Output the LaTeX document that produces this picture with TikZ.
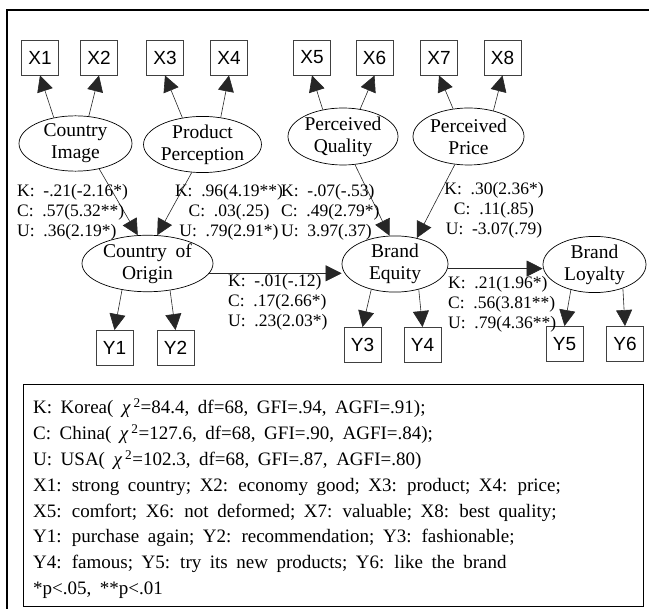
\documentclass[tikz,border=0pt]{standalone}
\usepackage{fontspec}
\setmainfont{Liberation Serif}
\setsansfont{Liberation Sans}
\usetikzlibrary{shapes.geometric,arrows.meta}
\newcommand\latfont{\fontsize{19.5}{22}\selectfont\spaceskip=0.45em\relax}
\newcommand\coeffont{\fontsize{17.5}{20}\selectfont\spaceskip=0.5em\relax}
\newcommand\legfont{\fontsize{19}{22}\selectfont\spaceskip=0.45em\relax}
\tikzset{
  latent/.style={draw, ellipse, inner sep=0pt, align=center, line width=0.7pt, font=\latfont},
  obs/.style={draw=black!75, minimum width=37pt, minimum height=35pt, inner sep=0pt,
    line width=0.9pt, font=\sffamily\fontsize{19}{20}\selectfont},
  coef/.style={inner sep=0pt, font=\coeffont},
  arr/.style={-{Triangle[length=16pt,width=16pt]}, draw=black!85, line width=0.6pt},
  legline/.style={anchor=base west, inner sep=0pt, font=\legfont},
}
\begin{document}
\begin{tikzpicture}[x=1pt, y=-1pt]
  \useasboundingbox (0,0) rectangle (649,609);
  \draw[line width=1.4pt] (649,10) -- (7,10) -- (7,609);

  % latent variables
  \node[latent, minimum width=113pt, minimum height=53pt] (ci) at (75.5,143.5) {Country\\Image};
  \node[latent, minimum width=111pt, minimum height=55pt] (pp) at (202.5,144.5) {Product\\Perception};
  \node[latent, minimum width=110pt, minimum height=57pt] (pq) at (343,136.5) {Perceived\\Quality};
  \node[latent, minimum width=111pt, minimum height=57pt] (pr) at (468.5,136.5) {Perceived\\Price};
  \node[latent, minimum width=131pt, minimum height=49pt] (coo) at (147.5,263.5) {Country of\\Origin};
  \node[latent, minimum width=106pt, minimum height=52pt] (be) at (395,264) {Brand\\Equity};
  \node[latent, minimum width=103pt, minimum height=45pt] (bl) at (594.5,264.5) {Brand\\Loyalty};

  % indicators
  \foreach \n/\x in {1/40,2/99,3/165,4/229,5/312,6/374.5,7/439,8/502.5}
    \node[obs] (x\n) at (\x,57.5) {X\n};
  \foreach \n/\x/\y in {1/114.5/348,2/175.5/348,3/362.5/345,4/422.5/345,5/564.5/344,6/625/344}
    \node[obs] (y\n) at (\x,\y) {Y\n};

  % measurement paths
  \draw[arr] (ci.130) -- (x1.south);
  \draw[arr] (ci.64) -- (x2.south);
  \draw[arr] (pp.127) -- (x3.south);
  \draw[arr] (pp.56) -- (x4.south);
  \draw[arr] (pq.127) -- (x5.south);
  \draw[arr] (pq.58) -- (x6.south);
  \draw[arr] (pr.119) -- (x7.south);
  \draw[arr] (pr.46) -- (x8.south);
  \draw[arr] (coo.226) -- (y1.north);
  \draw[arr] (coo.310) -- (y2.north);
  \draw[arr] (be.227) -- (y3.north);
  \draw[arr] (be.313) -- (y4.north);
  \draw[arr] (bl.227) -- (y5.north);
  \draw[arr] (bl.320) -- (y6.north);

  % structural paths
  \draw[arr] (ci.313) -- (coo.109);
  \draw[arr] (pp.249) -- (coo.71);
  \draw[arr] (pq.293) -- (be.101);
  \draw[arr] (pr.244) -- (be.50);
  \draw[arr] (coo.351) -- (be.west |- coo.351);
  \draw[arr] (be.355) -- (bl.west |- be.355);

  % estimates
  \node[coef, anchor=west, align=left] (e1) at (17,212) {K: -.21(-2.16*)\\C: .57(5.32**)\\U: .36(2.19*)};
  \node[coef, align=center] (e2) at (229,212) {K: .96(4.19**)\\C: .03(.25)\\U: .79(2.91*)};
  \node[coef, anchor=west, align=left] (e3) at (281,212) {K: -.07(-.53)\\C: .49(2.79*)\\U: 3.97(.37)};
  \node[coef, align=center] (e4) at (494,210) {K: .30(2.36*)\\C: .11(.85)\\U: -3.07(.79)};
  \node[coef, anchor=west, align=left] (e5) at (228,302) {K: -.01(-.12)\\C: .17(2.66*)\\U: .23(2.03*)};
  \node[coef, anchor=west, align=left] (e6) at (448,304) {K: .21(1.96*)\\C: .56(3.81**)\\U: .79(4.36**)};

  % legend
  \draw[line width=1pt] (23,385) rectangle (643,607);
  \foreach \t [count=\i from 0] in {
      {K: Korea( {\itshape χ}\,\textsuperscript{2}=84.4, df=68, GFI=.94, AGFI=.91);},
      {C: China( {\itshape χ}\,\textsuperscript{2}=127.6, df=68, GFI=.90, AGFI=.84);},
      {U: USA( {\itshape χ}\,\textsuperscript{2}=102.3, df=68, GFI=.87, AGFI=.80)},
      {X1: strong country; X2: economy good; X3: product; X4: price;},
      {X5: comfort; X6: not deformed; X7: valuable; X8: best quality;},
      {Y1: purchase again; Y2: recommendation; Y3: fashionable;},
      {Y4: famous; Y5: try its new products; Y6: like the brand},
      {*p<.05, **p<.01}}
    \node[legline] (leg\i) at (33,{414+25.8*\i}) {\t};
\end{tikzpicture}
\end{document}
